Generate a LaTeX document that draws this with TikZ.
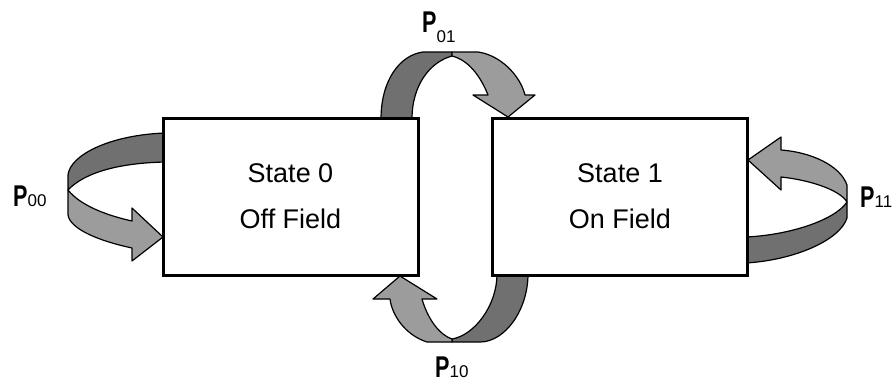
\documentclass[tikz,border=0pt]{standalone}
\usepackage{fontspec}
\setmainfont{Liberation Sans}
\definecolor{bandDark}{HTML}{707070}
\definecolor{bandLight}{HTML}{9C9C9C}
\newcommand\lblsub[1]{{\fontsize{17}{17}\selectfont\mdseries #1}}
\newcommand\bigP{\scalebox{0.72}[1]{\fontsize{30}{30}\selectfont\bfseries P}}
\begin{document}
\begin{tikzpicture}[x=1pt,y=-1pt,
  statebox/.style={draw=black, line width=3pt, fill=white, minimum width=255pt, minimum height=157pt, align=center, font=\fontsize{27}{46}\selectfont, inner sep=0pt},
  bandD/.style={fill=bandDark, draw=black, line width=1.2pt, line join=round},
  bandL/.style={fill=bandLight, draw=black, line width=1.2pt, line join=round},
  lbl/.style={inner sep=0pt}]
\useasboundingbox (0,0) rectangle (894,384);
% P01 arc (behind boxes)
\draw[bandD] (381,119) .. controls (381,80) and (400,55) .. (423,52) -- (452,52) -- (452,56) .. controls (430,62) and (412,85) .. (412,119) -- cycle;
\draw[bandL] (452,52) -- (478,52) .. controls (500,55) and (520,75) .. (525,95) -- (535,95) -- (508,117) -- (473,95) -- (488,95) .. controls (480,75) and (468,60) .. (452,56) -- cycle;
% P10 arc
\draw[bandD] (497,274) -- (528,274) .. controls (528,310) and (505,342) .. (480,342) -- (452,342) -- (452,339) .. controls (475,335) and (497,305) .. (497,274) -- cycle;
\draw[bandL] (452,342) -- (427,342) .. controls (405,335) and (392,315) .. (390,299) -- (373,299) -- (400,276) -- (437,299) -- (422,299) .. controls (428,320) and (440,335) .. (452,339) -- cycle;
% P00 loop
\draw[bandD] (165,133) .. controls (110,135) and (70,155) .. (68,175) -- (68,190) .. controls (85,172) and (120,163) .. (165,162) -- cycle;
\draw[bandL] (68,190) .. controls (80,205) and (105,215) .. (132,221) -- (132,208) -- (163,237) -- (132,261) -- (132,248) .. controls (95,240) and (70,228) .. (68,215) -- cycle;
% P11 loop
\draw[bandD] (746,237) .. controls (790,235) and (835,220) .. (847,202) -- (847,218) .. controls (840,240) and (795,260) .. (746,263) -- cycle;
\draw[bandL] (847,202) -- (847,185) .. controls (840,165) and (810,152) .. (781,150) -- (781,137) -- (748,160) -- (781,190) -- (781,177) .. controls (810,180) and (840,190) .. (847,202) -- cycle;
% boxes
\node[statebox] (s0) at (290.5,196.5) {State 0\\Off Field};
\node[statebox] (s1) at (620,196.5) {State 1\\On Field};
% labels
\node[lbl, anchor=base west] (p00) at (13,206) {\bigP\lblsub{00}};
\node[lbl, anchor=base west] (p01) at (422,32) {\bigP\raisebox{-10pt}{\lblsub{01}}};
\node[lbl, anchor=base west] (p10) at (435,377) {\bigP\lblsub{10}};
\node[lbl, anchor=base west] (p11) at (860,207) {\bigP\lblsub{11}};
\end{tikzpicture}
\end{document}
